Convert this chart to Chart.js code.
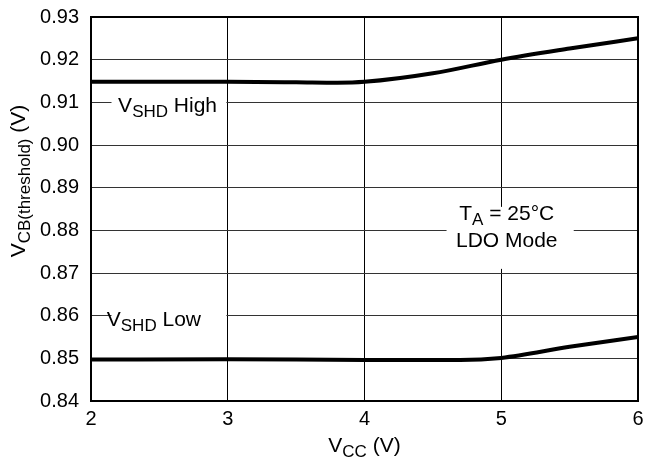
<!DOCTYPE html>
<html>
<head>
<meta charset="utf-8">
<script src="https://cdn.jsdelivr.net/npm/chart.js@4"></script>
<style>
  html, body { margin: 0; padding: 0; background: #fff; }
  #wrap { width: 646px; height: 468px; }
</style>
</head>
<body>
<div id="wrap"><canvas id="chart" width="646" height="468"></canvas></div>
<script>
// values
const vccHigh = [2, 2.5, 3, 3.5, 3.8, 4, 4.5, 5, 5.5, 6];
const vshdHigh = [0.9148, 0.9148, 0.9148, 0.9147, 0.9146, 0.9148, 0.9168, 0.9200, 0.9226, 0.9250];
const vccLow = [2, 3, 4, 4.7, 5, 5.5, 6];
const vshdLow = [0.8497, 0.8498, 0.8496, 0.8496, 0.8501, 0.8527, 0.8550];
const xTicks = [2, 3, 4, 5, 6];

const FONT = "'Liberation Sans', Arial, sans-serif";

// text with subscripts: parts = [[text, isSub], ...]
function partsWidth(ctx, parts, size, subSize) {
  let w = 0;
  parts.forEach(([t, sub]) => {
    ctx.font = (sub ? subSize : size) + "px " + FONT;
    w += ctx.measureText(t).width;
  });
  return w;
}
function drawParts(ctx, parts, cx, cy, size, subSize) {
  let x = cx - partsWidth(ctx, parts, size, subSize) / 2;
  ctx.textBaseline = "middle";
  ctx.textAlign = "left";
  parts.forEach(([t, sub]) => {
    ctx.font = (sub ? subSize : size) + "px " + FONT;
    ctx.fillText(t, x, sub ? cy + size * 0.3 : cy);
    x += ctx.measureText(t).width;
  });
}

const notes = {
  id: "notes",
  beforeDatasetsDraw(chart) {
    const { ctx, scales: { x, y } } = chart;
    ctx.save();
    ctx.fillStyle = "#fff";
    // gaps in the grid behind the labels
    ctx.fillRect(x.getPixelForValue(2.15), y.getPixelForValue(0.9118), x.getPixelForValue(2.99) - x.getPixelForValue(2.15), 22);
    ctx.fillRect(x.getPixelForValue(2.15), y.getPixelForValue(0.8622), x.getPixelForValue(2.99) - x.getPixelForValue(2.15), 22);
    ctx.fillRect(x.getPixelForValue(4.6), y.getPixelForValue(0.8855), x.getPixelForValue(5.53) - x.getPixelForValue(4.6), 62);
    ctx.fillStyle = "#000";
    drawParts(ctx, [["V", false], ["SHD", true], [" High", false]], x.getPixelForValue(2.56), y.getPixelForValue(0.9091), 21, 17);
    drawParts(ctx, [["V", false], ["SHD", true], [" Low", false]], x.getPixelForValue(2.46), y.getPixelForValue(0.8590), 21, 17);
    drawParts(ctx, [["T", false], ["A", true], [" = 25\u00B0C", false]], x.getPixelForValue(5.04), y.getPixelForValue(0.8838), 21, 17);
    drawParts(ctx, [["LDO Mode", false]], x.getPixelForValue(5.04), y.getPixelForValue(0.8775), 21, 17);
    ctx.restore();
  },
  afterDraw(chart) {
    const { ctx, chartArea: a } = chart;
    ctx.save();
    ctx.strokeStyle = "#000";
    ctx.lineWidth = 2;
    ctx.strokeRect(a.left, a.top, a.right - a.left, a.bottom - a.top);
    ctx.fillStyle = "#000";
    // axis titles with subscripts
    drawParts(ctx, [["V", false], ["CC", true], [" (V)", false]], (a.left + a.right) / 2, 446, 21, 17);
    ctx.translate(19, 181);
    ctx.rotate(-Math.PI / 2);
    drawParts(ctx, [["V", false], ["CB(threshold)", true], [" (V)", false]], 0, 0, 21, 17);
    ctx.restore();
  }
};

new Chart(document.getElementById("chart").getContext("2d"), {
  type: "line",
  data: {
    datasets: [
      { data: vccHigh.map((v, i) => ({ x: v, y: vshdHigh[i] })) },
      { data: vccLow.map((v, i) => ({ x: v, y: vshdLow[i] })) }
    ]
  },
  options: {
    responsive: false,
    animation: false,
    layout: { padding: { top: 17, right: 8, left: 0, bottom: 0 } },
    plugins: { legend: { display: false }, tooltip: { enabled: false } },
    elements: {
      point: { radius: 0 },
      line: { borderColor: "#000", borderWidth: 4, cubicInterpolationMode: "monotone", fill: false }
    },
    scales: {
      x: {
        type: "linear", min: 2, max: 6,
        afterBuildTicks: (s) => { s.ticks = xTicks.map(v => ({ value: v })); },
        afterFit: (s) => { s.height = 67; s.paddingLeft = 0; s.paddingRight = 0; },
        grid: { color: "#000", lineWidth: 1, drawTicks: false },
        border: { color: "#000", width: 2 },
        ticks: { color: "#000", padding: 6, font: { family: FONT, size: 20 } }
      },
      y: {
        min: 0.84, max: 0.93,
        afterFit: (s) => { s.width = 91; s.paddingTop = 0; s.paddingBottom = 0; },
        grid: { color: "#333", lineWidth: 1, drawTicks: false },
        border: { color: "#000", width: 2 },
        ticks: { color: "#000", stepSize: 0.01, padding: 12, font: { family: FONT, size: 20 },
          callback: (v) => v.toFixed(2) }
      }
    }
  },
  plugins: [notes]
});
</script>
</body>
</html>
